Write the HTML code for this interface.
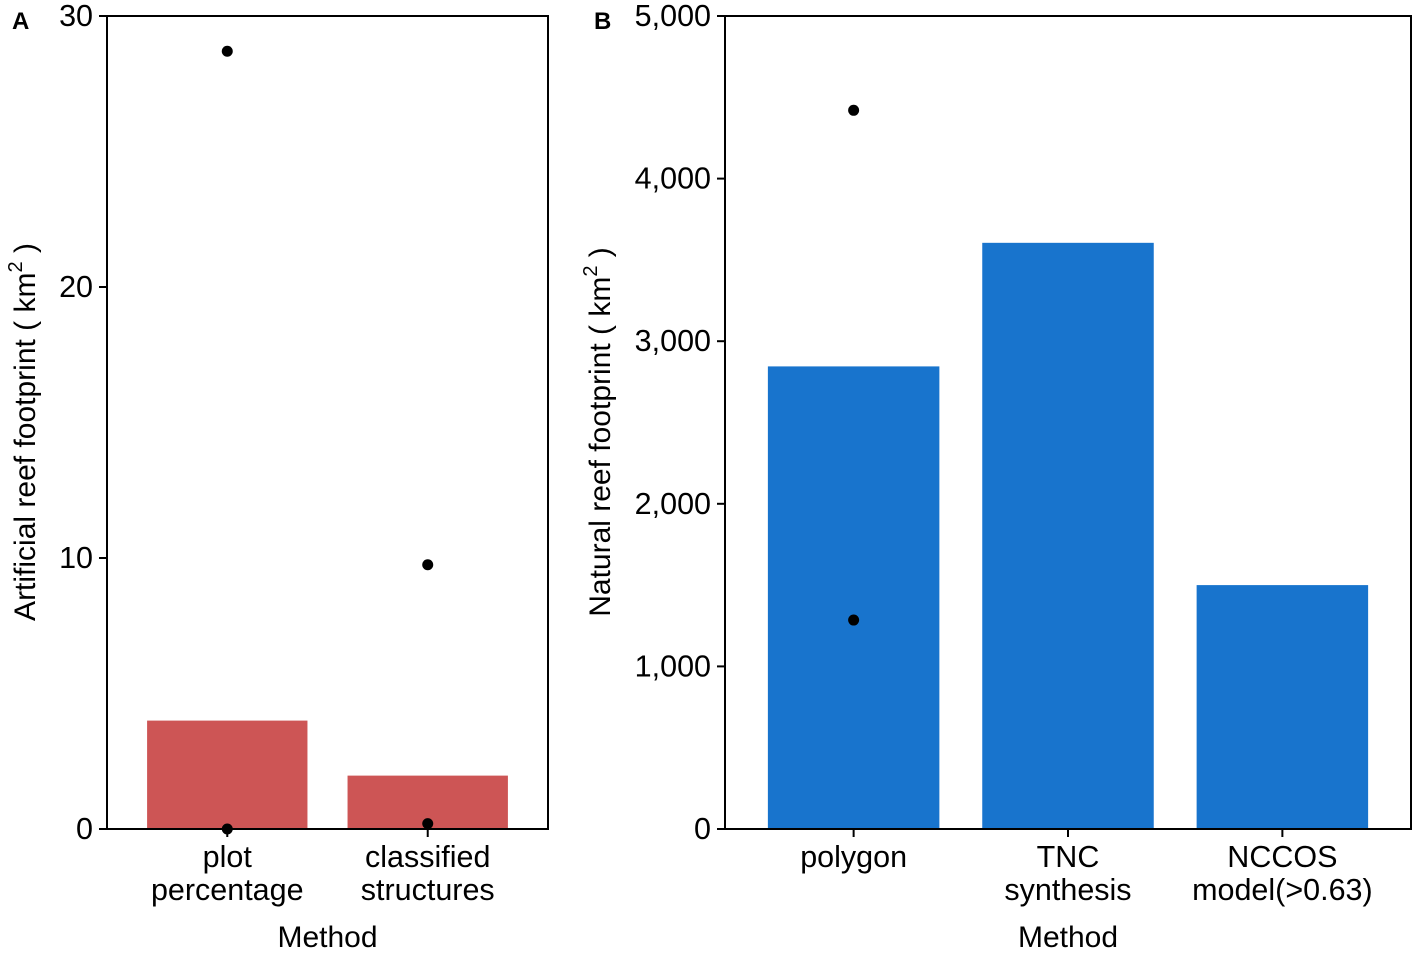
<!DOCTYPE html>
<html><head><meta charset="utf-8"><style>
body{margin:0;background:#fff}
svg{font-family:"Liberation Sans",Arial,sans-serif}
</style></head><body>
<svg id="c" width="1417" height="952" viewBox="0 0 1417 952"></svg>
<script>
const catsA=["plot\npercentage","classified\nstructures"];
const barsA=[4.0,1.97];
const ptsA=[[0,28.7],[0,0],[1,9.75],[1,0.2]];
const ticksA=[0,10,20,30];
const catsB=["polygon","TNC\nsynthesis","NCCOS\nmodel(>0.63)"];
const barsB=[2845,3605,1500];
const ptsB=[[0,4420],[0,1285]];
const ticksB=[0,1000,2000,3000,4000,5000];
const NS="http://www.w3.org/2000/svg";
const svg=document.getElementById('c');
function el(t,a,p){const e=document.createElementNS(NS,t);for(const k in a)e.setAttribute(k,a[k]);(p||svg).appendChild(e);return e;}
function panel(o){
  const g=el('g',{});
  
  
  const y=v=>o.y1-(v/o.max)*(o.y1-o.y0);
  const n=o.cats.length;
  const step=(o.x1-o.x0)/(n-1+1.2);
  const xc=i=>o.x0+step*(i+0.6);
  const bw=step*0.8;
  o.bars.forEach((v,i)=>{const r=el('rect',{x:xc(i)-bw/2,y:y(v),width:bw,height:o.y1-y(v),fill:o.color},g);
    
    });
  o.pts.forEach(p=>{const c=el('circle',{cx:xc(p[0]),cy:y(p[1]),r:5.5,fill:'#000'},g);
    
    });
  const f=el('rect',{x:o.x0,y:o.y0,width:o.x1-o.x0,height:o.y1-o.y0,fill:'none',stroke:'#000','stroke-width':2},g);
  
  
  o.ticks.forEach(t=>{el('line',{x1:o.x0-8,x2:o.x0,y1:y(t),y2:y(t),stroke:'#000','stroke-width':2},g);
    const tx=el('text',{x:o.x0-14,y:y(t)+10,'text-anchor':'end','font-size':30.5},g);
    tx.textContent=t.toLocaleString('en-US');
    
    });
  o.cats.forEach((c,i)=>{el('line',{x1:xc(i),x2:xc(i),y1:o.y1,y2:o.y1+8,stroke:'#000','stroke-width':2},g);
    c.split('\n').forEach((s,j)=>{const tx=el('text',{x:xc(i),y:o.y1+38+j*33,'text-anchor':'middle','font-size':30.5},g);
      tx.textContent=s;
      
      });});
  const xt=el('text',{x:(o.x0+o.x1)/2,y:947,'text-anchor':'middle','font-size':30},g);
  xt.textContent='Method';
  
  
  const yt=el('text',{transform:`translate(${o.ytx},432) rotate(-90)`,'text-anchor':'middle','font-size':30},g);
  yt.innerHTML=o.ylab+' ( km<tspan dy="-13" font-size="20">2</tspan><tspan dy="13"> )</tspan>';
  
  
  const pl=el('text',{x:o.plx,y:29,'font-size':24,'font-weight':'bold'},g);
  pl.textContent=o.letter;
  
  
}
panel({name:'panel-a',x0:107,x1:548,y0:16,y1:829,max:30,cats:catsA,bars:barsA,pts:ptsA,ticks:ticksA,color:'#CD5555',ylab:'Artificial reef footprint',ytx:35,letter:'A',plx:12});
panel({name:'panel-b',x0:725,x1:1411,y0:16,y1:829,max:5000,cats:catsB,bars:barsB,pts:ptsB,ticks:ticksB,color:'#1874CD',ylab:'Natural reef footprint',ytx:610,letter:'B',plx:594});
</script>
</body></html>
